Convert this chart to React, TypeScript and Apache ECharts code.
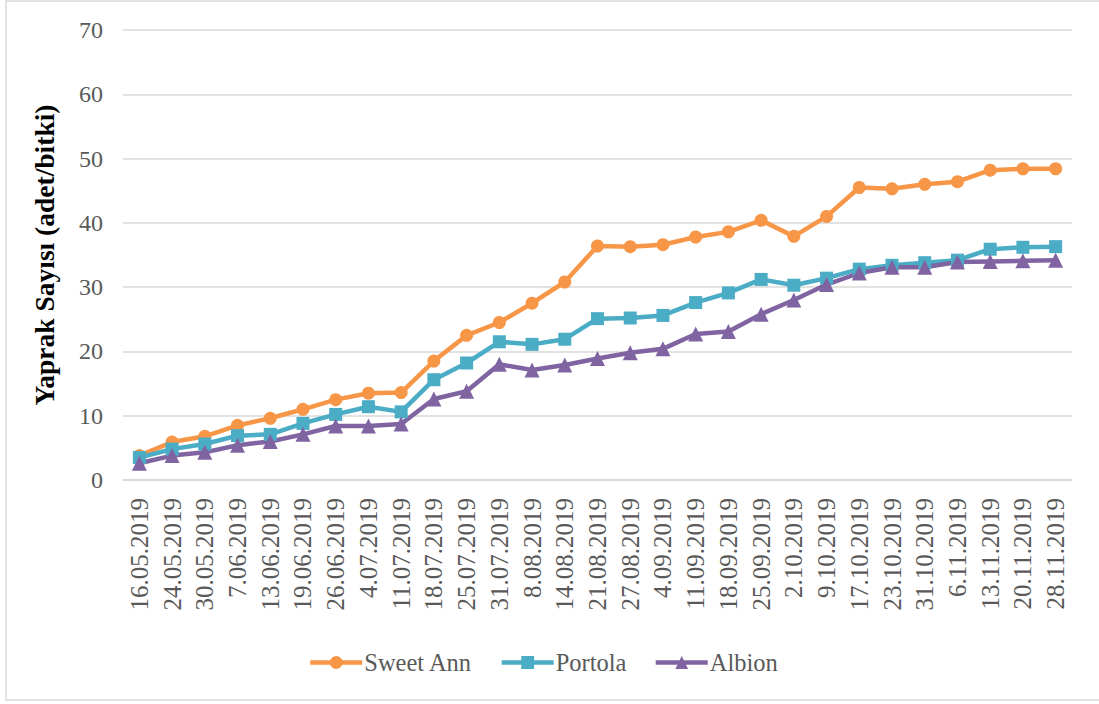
import React, { useEffect, useRef } from "react";
import * as echarts from "echarts";

const categories = [
  "16.05.2019", "24.05.2019", "30.05.2019", "7.06.2019", "13.06.2019", "19.06.2019",
  "26.06.2019", "4.07.2019", "11.07.2019", "18.07.2019", "25.07.2019", "31.07.2019",
  "8.08.2019", "14.08.2019", "21.08.2019", "27.08.2019", "4.09.2019", "11.09.2019",
  "18.09.2019", "25.09.2019", "2.10.2019", "9.10.2019", "17.10.2019", "23.10.2019",
  "31.10.2019", "6.11.2019", "13.11.2019", "20.11.2019", "28.11.2019",
];

const sweetAnn = [
  3.8, 5.9, 6.8, 8.5, 9.6, 11.0, 12.5, 13.5, 13.6, 18.5, 22.5, 24.5, 27.5, 30.8, 36.4,
  36.3, 36.6, 37.8, 38.6, 40.4, 37.9, 41.0, 45.5, 45.3, 46.0, 46.4, 48.2, 48.4, 48.4,
];
const portola = [
  3.5, 4.8, 5.6, 6.9, 7.1, 8.8, 10.2, 11.4, 10.6, 15.6, 18.2, 21.5, 21.1, 21.9, 25.1,
  25.2, 25.6, 27.6, 29.1, 31.2, 30.3, 31.4, 32.8, 33.4, 33.8, 34.2, 35.9, 36.2, 36.3,
];
const albion = [
  2.6, 3.8, 4.3, 5.4, 6.0, 7.1, 8.4, 8.4, 8.7, 12.6, 13.8, 18.0, 17.1, 17.9, 18.9,
  19.8, 20.4, 22.7, 23.1, 25.8, 28.0, 30.4, 32.2, 33.1, 33.1, 33.9, 34.0, 34.1, 34.2,
];

const seriesNames = ["Sweet Ann", "Portola", "Albion"];
const seriesColors = ["#F79646", "#4BACC6", "#8064A2"];
const seriesSymbols = ["circle", "rect", "triangle"];
const yTitle = "Yaprak Sayısı (adet/bitki)";

const FONT = "Liberation Serif";

export default function App() {
  const ref = useRef<HTMLDivElement>(null);

  useEffect(() => {
    if (!ref.current) return;
    const chart = echarts.init(ref.current, null, { renderer: "svg" });
    const datasets = [sweetAnn, portola, albion];
    chart.setOption({
      animation: false,
      backgroundColor: "#ffffff",
      textStyle: { fontFamily: FONT },
      graphic: [
        {
          type: "rect",
          shape: { x: 6, y: 1, width: 1110, height: 699 },
          style: { fill: "none", stroke: "#d9d9d9", lineWidth: 1.5 },
          silent: true,
        },
      ],
      grid: { left: 123, right: 27, top: 30, bottom: 224, containLabel: false },
      legend: {
        bottom: 24,
        left: 303,
        itemWidth: 52,
        itemHeight: 16,
        itemGap: 27,
        lineStyle: { width: 4.5 },
        textStyle: { fontFamily: FONT, fontSize: 24.5, color: "#595959", padding: [0, 0, 0, -3] },
        data: seriesNames,
      },
      xAxis: {
        type: "category",
        data: categories,
        boundaryGap: true,
        axisLine: { show: true, lineStyle: { color: "#d9d9d9", width: 1.5 } },
        axisTick: { show: false },
        axisLabel: {
          rotate: 90,
          interval: 0,
          margin: 18,
          fontFamily: FONT,
          fontSize: 25,
          color: "#595959",
        },
      },
      yAxis: {
        type: "value",
        min: 0,
        max: 70,
        interval: 10,
        name: yTitle,
        nameLocation: "middle",
        nameRotate: 90,
        nameGap: 65,
        nameTextStyle: { fontFamily: FONT, fontSize: 27.5, fontWeight: "bold", color: "#000000" },
        axisLine: { show: false },
        axisTick: { show: false },
        axisLabel: { margin: 20, fontFamily: FONT, fontSize: 24, color: "#595959" },
        splitLine: { lineStyle: { color: "#d9d9d9", width: 1.5 } },
      },
      series: seriesNames.map((name, i) => ({
        name,
        type: "line",
        data: datasets[i],
        symbol: seriesSymbols[i],
        symbolSize: i === 2 ? 15 : 13,
        showAllSymbol: true,
        itemStyle: { color: seriesColors[i] },
        lineStyle: { color: seriesColors[i], width: 4.5 },
        emphasis: { disabled: true },
      })),
    });
    return () => chart.dispose();
  }, []);

  return (
    <div
      ref={ref}
      style={{ position: "fixed", left: 0, top: 0, width: 1099, height: 704, background: "#fff" }}
    />
  );
}
